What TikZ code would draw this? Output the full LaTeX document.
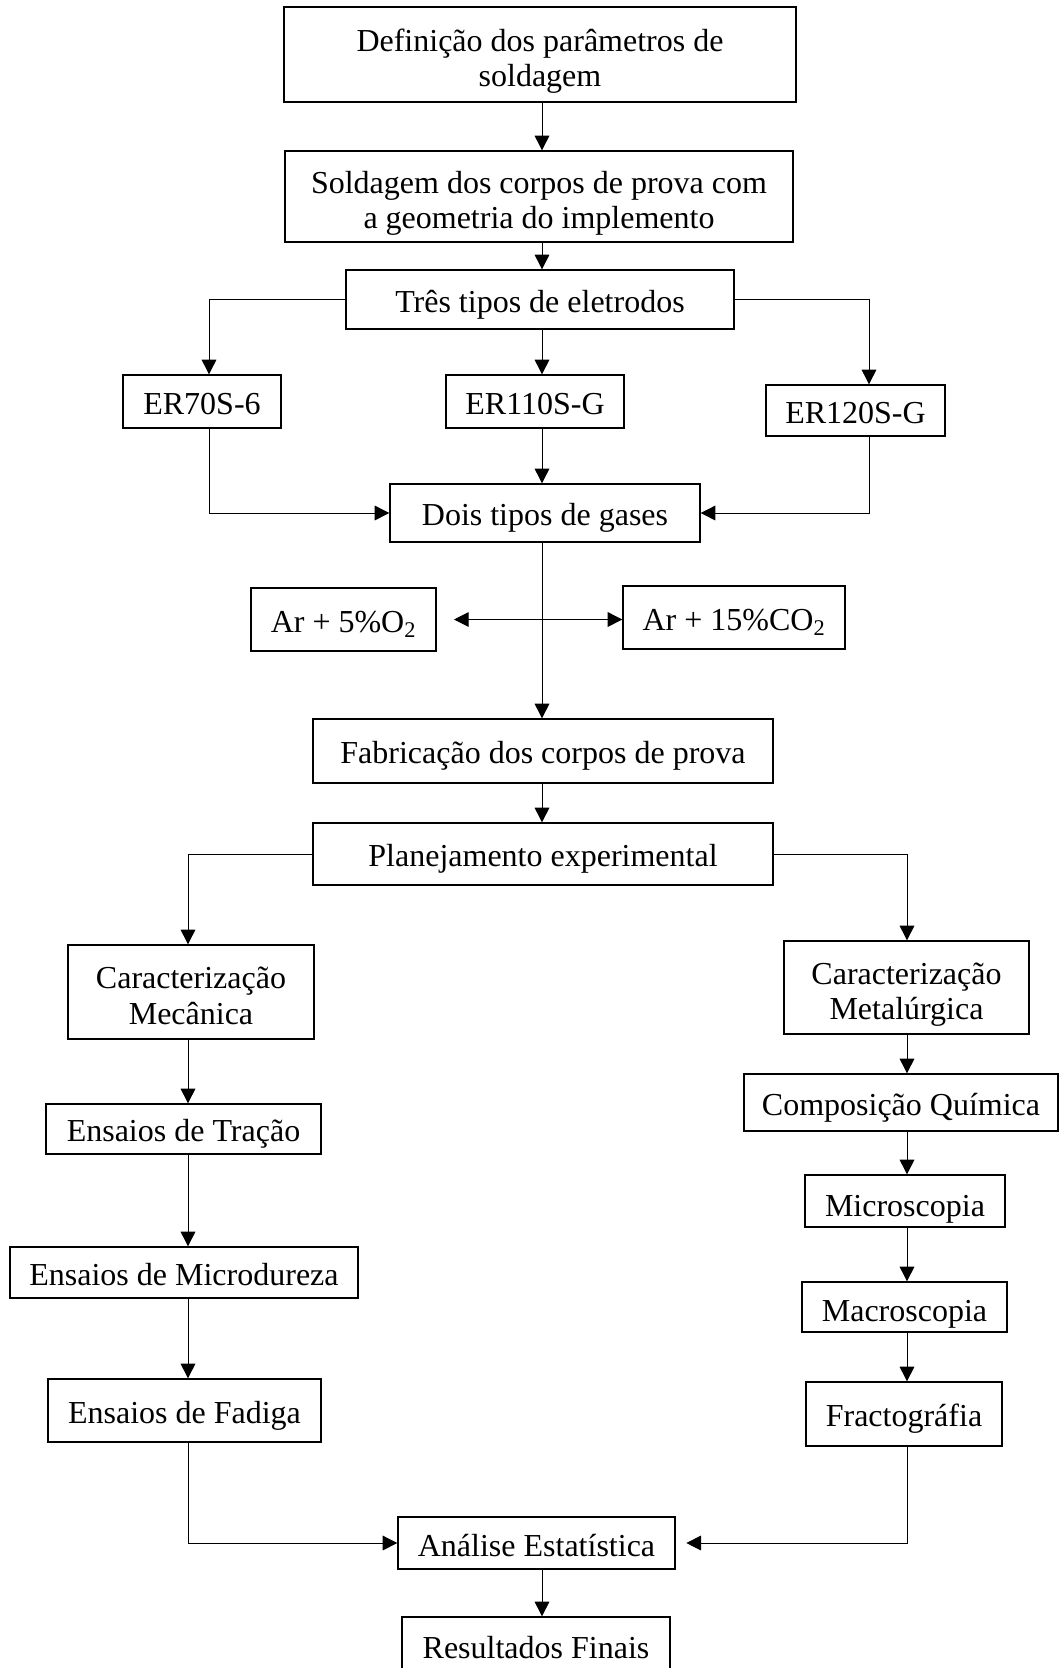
\documentclass[tikz,border=0pt]{standalone}
\usepackage{fontspec}
\setmainfont{Liberation Serif}
\usetikzlibrary{arrows.meta}
\begin{document}
\begin{tikzpicture}[x=0.75pt,y=-0.75pt,line join=miter,>={Triangle[length=11pt,width=11pt]}]
\tikzset{every node/.style={font=\fontsize{24}{26.5}\selectfont}}
\tikzset{box/.style n args={2}{draw,line width=1pt,inner sep=0pt,align=center,minimum width=#1*0.75pt,minimum height=#2*0.75pt,
    execute at begin node={\rule{0pt}{24.5pt}},execute at end node={\rule[-5pt]{0pt}{5pt}}},
  low/.style={execute at begin node={\rule{0pt}{#1}}},
  arr/.style={->,line width=0.75pt}}
\useasboundingbox (0,0) rectangle (1059,1668);
\coordinate (mc) at (542,0);
\coordinate (lc) at (188,0);
\coordinate (rc) at (907,0);
\coordinate (bl) at (209,0);
\coordinate (br) at (869,0);
\node[box={512}{95},low=53pt] (def) at (540,54.5) {Definição dos parâmetros de\\soldagem};
\node[box={508}{91},low=53pt] (sold) at (539,196.5) {Soldagem dos corpos de prova com\\a geometria do implemento};
\node[box={388}{59}] (tres) at (540,299.5) {Três tipos de eletrodos};
\node[box={158}{53}] (er70) at (202,401.5) {ER70S-6};
\node[box={178}{53}] (er110) at (535,401.5) {ER110S-G};
\node[box={179}{51}] (er120) at (855.5,410.5) {ER120S-G};
\node[box={310}{58}] (dois) at (545,513) {Dois tipos de gases};
\node[box={185}{63}] (ar5) at (343.5,619.5) {Ar + 5\%O\textsubscript{2}};
\node[box={222}{63}] (ar15) at (734,617.5) {Ar + 15\%CO\textsubscript{2}};
\node[box={460}{64}] (fab) at (543,751) {Fabricação dos corpos de prova};
\node[box={460}{62}] (plan) at (543,854) {Planejamento experimental};
\node[box={246}{94},low=53pt] (mec) at (191,992) {Caracterização\\Mecânica};
\node[box={245}{93},low=53pt] (met) at (906.5,987.5) {Caracterização\\Metalúrgica};
\node[box={275}{50}] (trac) at (183.5,1129) {Ensaios de Tração};
\node[box={348}{51}] (mdur) at (184,1272.5) {Ensaios de Microdureza};
\node[box={273}{63}] (fad) at (184.5,1410.5) {Ensaios de Fadiga};
\node[box={314}{57}] (comp) at (901,1102.5) {Composição Química};
\node[box={200}{52},low=29pt] (micro) at (905,1201) {Microscopia};
\node[box={205}{50},low=27pt] (macro) at (904.5,1307) {Macroscopia};
\node[box={196}{64}] (fract) at (904,1414) {Fractográfia};
\node[box={277}{52}] (anal) at (536.5,1543) {Análise Estatística};
\node[box={268}{56}] (res) at (536,1645) {Resultados Finais};
\draw[arr] (def.south -| mc) -- (sold.north -| mc);
\draw[arr] (sold.south -| mc) -- (tres.north -| mc);
\draw[arr] (tres.south -| mc) -- (er110.north -| mc);
\draw[arr] (tres.west) -| (er70.north -| bl);
\draw[arr] (tres.east) -| (er120.north -| br);
\draw[arr] (er110.south -| mc) -- (dois.north -| mc);
\draw[arr] (er70.south -| bl) |- (dois.west);
\draw[arr] (er120.south -| br) |- (dois.east);
\draw[arr] (dois.south -| mc) -- (fab.north -| mc);
\draw[arr,<->] ([xshift=13pt]ar5.east) -- (ar15.west |- ar5.east);
\draw[arr] (fab.south -| mc) -- (plan.north -| mc);
\draw[arr] (plan.west) -| (mec.north -| lc);
\draw[arr] (plan.east) -| (met.north -| rc);
\draw[arr] (mec.south -| lc) -- (trac.north -| lc);
\draw[arr] (trac.south -| lc) -- (mdur.north -| lc);
\draw[arr] (mdur.south -| lc) -- (fad.north -| lc);
\draw[arr] (fad.south -| lc) |- (anal.west);
\draw[arr] (met.south -| rc) -- (comp.north -| rc);
\draw[arr] (comp.south -| rc) -- (micro.north -| rc);
\draw[arr] (micro.south -| rc) -- (macro.north -| rc);
\draw[arr] (macro.south -| rc) -- (fract.north -| rc);
\draw[arr] (fract.south -| rc) |- ([xshift=8pt]anal.east);
\draw[arr] (anal.south -| mc) -- (res.north -| mc);
\end{tikzpicture}
\end{document}
